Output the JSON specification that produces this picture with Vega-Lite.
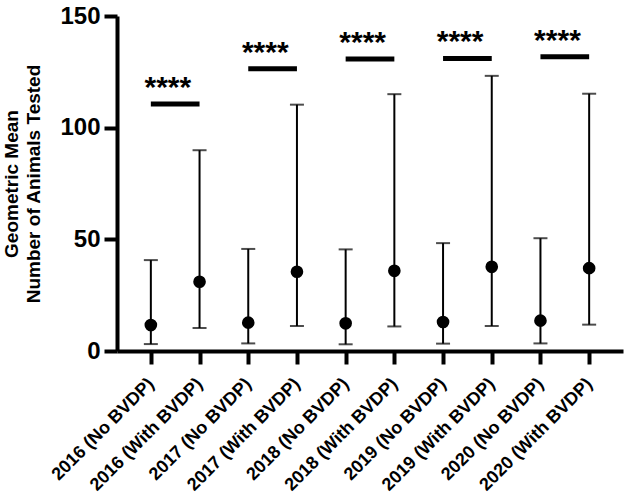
{
  "$schema": "https://vega.github.io/schema/vega-lite/v6.json",
  "width": 506,
  "height": 335,
  "autosize": {"type": "none"},
  "padding": {"left": 117, "top": 16, "right": 7, "bottom": 152},
  "background": "white",
  "config": {
    "view": {"stroke": null},
    "font": "Liberation Sans",
    "axis": {"grid": false, "domainColor": "black", "tickColor": "black", "labelColor": "black", "titleColor": "black", "labelFont": "Liberation Sans", "titleFont": "Liberation Sans"}
  },
  "datasets": {
    "groups": [
      {"group": "2016 (No BVDP)", "mean": 11.6, "lo": 3.1, "hi": 40.7},
      {"group": "2016 (With BVDP)", "mean": 31.0, "lo": 10.3, "hi": 89.9},
      {"group": "2017 (No BVDP)", "mean": 12.7, "lo": 3.4, "hi": 45.7},
      {"group": "2017 (With BVDP)", "mean": 35.5, "lo": 11.2, "hi": 110.3},
      {"group": "2018 (No BVDP)", "mean": 12.4, "lo": 3.0, "hi": 45.5},
      {"group": "2018 (With BVDP)", "mean": 35.9, "lo": 11.0, "hi": 115.0},
      {"group": "2019 (No BVDP)", "mean": 13.0, "lo": 3.3, "hi": 48.3},
      {"group": "2019 (With BVDP)", "mean": 37.7, "lo": 11.2, "hi": 123.2},
      {"group": "2020 (No BVDP)", "mean": 13.6, "lo": 3.4, "hi": 50.5},
      {"group": "2020 (With BVDP)", "mean": 37.1, "lo": 11.8, "hi": 115.2}
    ],
    "sig": [
      {"from": "2016 (No BVDP)", "to": "2016 (With BVDP)", "bar": 110.6, "label": "****"},
      {"from": "2017 (No BVDP)", "to": "2017 (With BVDP)", "bar": 126.4, "label": "****"},
      {"from": "2018 (No BVDP)", "to": "2018 (With BVDP)", "bar": 130.7, "label": "****"},
      {"from": "2019 (No BVDP)", "to": "2019 (With BVDP)", "bar": 131.0, "label": "****"},
      {"from": "2020 (No BVDP)", "to": "2020 (With BVDP)", "bar": 131.7, "label": "****"}
    ]
  },
  "layer": [
    {
      "data": {"name": "groups"},
      "mark": {"type": "rule", "color": "black", "strokeWidth": 2},
      "encoding": {
        "x": {"field": "group", "type": "nominal", "sort": null,
          "scale": {"type": "point", "padding": 0.695},
          "axis": {"title": null, "domainWidth": 4, "tickWidth": 4, "tickSize": 13, "labelAngle": -45, "labelAlign": "right", "labelBaseline": "middle", "labelFontSize": 18, "labelFontWeight": "bold", "labelPadding": 17, "labelOverlap": false}},
        "y": {"field": "lo", "type": "quantitative",
          "scale": {"domain": [0, 150], "nice": false},
          "axis": {"values": [0, 50, 100, 150], "title": ["Geometric Mean", "Number of Animals Tested"], "titleFontSize": 19, "titleFontWeight": "bold", "titleLineHeight": 22, "titlePadding": 16, "domainWidth": 4, "tickWidth": 4, "tickSize": 13, "labelFontSize": 24, "labelFontWeight": "bold", "labelPadding": 4}},
        "y2": {"field": "hi"}
      }
    },
    {
      "data": {"name": "groups"},
      "mark": {"type": "tick", "color": "black", "thickness": 2, "size": 14},
      "encoding": {
        "x": {"field": "group", "type": "nominal", "sort": null},
        "y": {"field": "lo", "type": "quantitative"}
      }
    },
    {
      "data": {"name": "groups"},
      "mark": {"type": "tick", "color": "black", "thickness": 2, "size": 14},
      "encoding": {
        "x": {"field": "group", "type": "nominal", "sort": null},
        "y": {"field": "hi", "type": "quantitative"}
      }
    },
    {
      "data": {"name": "groups"},
      "mark": {"type": "point", "filled": true, "color": "black", "opacity": 1, "size": 160},
      "encoding": {
        "x": {"field": "group", "type": "nominal", "sort": null},
        "y": {"field": "mean", "type": "quantitative"}
      }
    },
    {
      "data": {"name": "sig"},
      "mark": {"type": "rule", "color": "black", "strokeWidth": 5},
      "encoding": {
        "x": {"field": "from", "type": "nominal", "sort": null},
        "x2": {"field": "to"},
        "y": {"field": "bar", "type": "quantitative"}
      }
    },
    {
      "data": {"name": "sig"},
      "mark": {"type": "text", "color": "black", "fontSize": 30, "fontWeight": "bold", "align": "center", "baseline": "middle", "dx": 17, "dy": -16},
      "encoding": {
        "x": {"field": "from", "type": "nominal", "sort": null},
        "y": {"field": "bar", "type": "quantitative"},
        "text": {"field": "label"}
      }
    }
  ]
}
